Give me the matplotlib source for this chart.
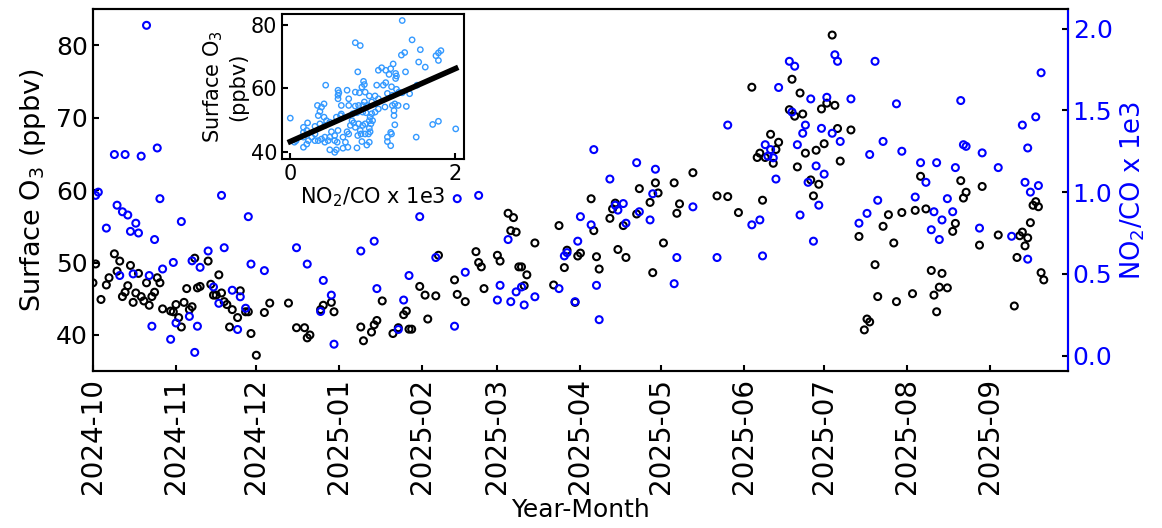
import matplotlib.pyplot as plt
import matplotlib.dates as md
import numpy as np
import pandas as pd

start = pd.Timestamp('2024-10-01')

# daily surface O3 (ppbv), day index counted from 2024-10-01
o3_day = [0, 1, 3, 5, 6, 8, 9, 10, 11, 12, 13, 14, 15, 16, 17, 18, 19, 20, 21, 22,
          23, 24, 25, 26, 29, 30, 31, 32, 33, 34, 35, 36, 37, 38, 39, 40, 43, 44, 45, 46,
          47, 48, 49, 50, 51, 52, 54, 55, 57, 58, 59, 61, 64, 66, 73, 76, 79, 80, 81, 85,
          86, 89, 90, 100, 101, 104, 105, 106, 108, 112, 114, 116, 117, 118, 119, 122, 124, 125, 128, 129,
          135, 136, 139, 143, 144, 145, 146, 151, 152, 155, 157, 156, 158, 159, 160, 162, 161, 165, 172, 174,
          176, 177, 181, 182, 180, 186, 187, 188, 189, 193, 194, 195, 196, 198, 199, 203, 204, 208, 209, 210,
          211, 213, 217, 218, 219, 224, 233, 237, 241, 246, 250, 248, 249, 251, 253, 254, 255, 256, 263, 260,
          262, 261, 264, 276, 265, 272, 274, 277, 278, 283, 273, 270, 266, 279, 268, 271, 269, 309, 286, 295,
          297, 302, 307, 311, 299, 292, 293, 300, 306, 289, 290, 288, 313, 314, 316, 315, 324, 326, 325, 332,
          322, 321, 338, 331, 317, 319, 344, 345, 348, 346, 347, 349, 350, 351, 352, 353, 354, 355]
o3_val = [47.2, 49.8, 44.9, 46.9, 47.9, 51.2, 48.8, 50.2, 45.3, 45.9, 46.8, 49.6, 44.5, 45.8, 48.5, 45.3, 44.7, 47.2, 44.1, 45.3,
          45.9, 47.9, 47.2, 43.6, 43.3, 43.2, 44.2, 42.4, 41.1, 44.5, 46.4, 43.5, 43.9, 50.6, 46.5, 46.7, 50.2, 47.0, 45.5, 45.5,
          48.3, 45.8, 44.6, 44.2, 41.1, 43.5, 42.4, 46.1, 43.2, 43.2, 40.2, 37.2, 43.1, 44.4, 44.4, 41.0, 41.0, 39.6, 40.0, 43.5,
          44.1, 44.5, 43.2, 41.1, 39.2, 40.4, 41.4, 42.0, 44.7, 40.2, 41.0, 42.8, 43.3, 40.8, 40.8, 46.7, 45.5, 42.2, 45.4, 51.0,
          47.6, 45.6, 44.6, 51.5, 50.0, 49.4, 46.4, 51.0, 50.2, 56.8, 56.2, 54.4, 54.2, 49.4, 49.4, 48.3, 46.8, 52.7, 46.9, 55.1,
          49.3, 51.7, 50.9, 51.3, 44.5, 58.8, 54.4, 50.8, 49.1, 56.1, 57.4, 58.2, 51.8, 55.1, 50.7, 56.7, 60.2, 58.3, 48.6, 61.0,
          59.6, 52.7, 61.0, 56.8, 58.1, 62.4, 59.2, 59.1, 56.9, 74.2, 58.6, 64.5, 65.1, 64.5, 67.7, 63.7, 65.6, 66.6, 63.2, 71.1,
          70.2, 75.3, 73.4, 81.4, 70.5, 71.2, 72.0, 71.7, 68.5, 68.3, 66.4, 65.5, 65.1, 64.0, 61.4, 60.8, 59.2, 61.9, 53.6, 55.0,
          56.6, 56.9, 57.2, 57.4, 52.7, 49.7, 45.3, 44.6, 45.7, 42.2, 41.8, 40.7, 48.9, 45.5, 46.6, 43.2, 61.3, 59.7, 58.9, 60.5,
          55.4, 54.3, 53.8, 52.4, 48.5, 46.5, 44.0, 50.7, 52.3, 53.7, 54.2, 53.4, 55.5, 57.9, 58.4, 57.7, 48.6, 47.6]

# daily NO2/CO ratio (x 1e3)
ratio_day = [20, 8, 12, 18, 24, 1, 2, 48, 25, 9, 11, 13, 16, 14, 17, 5, 33, 23, 49, 43,
             30, 37, 26, 40, 15, 10, 21, 45, 52, 47, 36, 31, 22, 39, 54, 29, 38, 58, 55, 57,
             76, 80, 64, 59, 86, 89, 85, 90, 100, 105, 106, 122, 136, 144, 128, 118, 116, 114, 135, 139,
             152, 151, 156, 155, 158, 161, 160, 165, 174, 176, 177, 180, 181, 182, 186, 187, 188, 189, 193, 195,
             196, 198, 199, 203, 204, 208, 209, 210, 217, 218, 224, 233, 237, 246, 249, 250, 251, 253, 252, 254,
             255, 256, 260, 262, 261, 263, 264, 277, 278, 292, 268, 274, 283, 300, 266, 265, 272, 276, 279, 295,
             290, 302, 270, 273, 267, 271, 269, 293, 289, 286, 309, 311, 315, 307, 314, 313, 316, 354, 324, 352,
             347, 325, 326, 349, 332, 322, 338, 348, 353, 350, 319, 321, 317, 331, 343, 349]
ratio_val = [2.02, 1.23, 1.23, 1.22, 1.27, 0.98, 1.00, 0.98, 0.96, 0.92, 0.88, 0.86, 0.81, 0.76, 0.75, 0.78, 0.82, 0.71, 0.66, 0.64,
             0.57, 0.58, 0.53, 0.54, 0.50, 0.49, 0.49, 0.42, 0.40, 0.32, 0.24, 0.20, 0.18, 0.18, 0.16, 0.10, 0.02, 0.85, 0.36, 0.29,
             0.66, 0.56, 0.52, 0.56, 0.46, 0.37, 0.27, 0.07, 0.64, 0.70, 0.41, 0.85, 0.96, 0.98, 0.60, 0.49, 0.34, 0.16, 0.18, 0.51,
             0.43, 0.34, 0.33, 0.71, 0.39, 0.31, 0.42, 0.36, 0.41, 0.61, 0.63, 0.33, 0.70, 0.85, 0.80, 1.26, 0.43, 0.22, 1.08, 0.92,
             0.89, 0.93, 0.81, 1.18, 0.88, 0.83, 0.99, 1.14, 0.44, 0.60, 0.91, 0.60, 1.41, 0.80, 0.83, 0.61, 1.29, 1.26, 1.22, 1.21,
             1.08, 1.64, 1.80, 1.77, 1.49, 1.29, 0.86, 1.84, 1.80, 1.80, 1.57, 1.58, 1.57, 1.54, 1.41, 1.36, 1.39, 1.36, 1.31, 1.31,
             1.23, 1.25, 1.16, 1.11, 1.06, 0.92, 0.70, 0.95, 0.87, 0.81, 1.18, 1.06, 1.18, 0.97, 0.88, 0.77, 0.71, 1.73, 1.56, 1.46,
             1.41, 1.29, 1.28, 1.27, 1.24, 1.15, 1.15, 1.06, 1.04, 1.00, 0.96, 0.88, 0.83, 0.78, 0.73, 0.59]

# matched days: NO2/CO (x 1e3) against O3 (ppbv)
pair_ratio = [1.36, 0.79, 0.85, 1.48, 1.58, 1.35, 1.39, 1.83, 1.80, 1.77, 1.80, 1.56, 1.64, 1.25, 1.07, 1.11, 1.16, 1.22, 0.82, 1.20,
              1.28, 1.29, 1.28, 1.40, 0.89, 0.90, 1.05, 1.13, 1.16, 1.23, 0.87, 0.91, 0.43, 0.58, 0.59, 0.58, 0.69, 0.79, 0.84, 0.71,
              0.58, 0.96, 1.03, 1.07, 0.99, 1.18, 1.24, 1.29, 1.32, 1.36, 1.45, 1.54, 0.33, 0.38, 0.41, 0.36, 0.34, 0.79, 0.88, 0.90,
              0.93, 0.81, 0.88, 0.92, 1.24, 1.27, 1.31, 1.15, 1.41, 0.62, 0.41, 0.44, 0.76, 0.00, 0.16, 0.21, 0.20, 0.16, 0.30, 0.30,
              0.36, 0.42, 0.48, 0.56, 0.61, 0.75, 0.77, 0.73, 0.79, 0.83, 0.88, 0.91, 0.96, 1.00, 0.98, 0.96, 0.97, 0.95, 0.91, 0.85,
              0.86, 0.82, 0.58, 0.69, 0.71, 0.64, 0.50, 0.54, 0.48, 0.54, 0.57, 0.42, 0.38, 0.46, 0.42, 0.26, 0.30, 0.34, 0.22, 0.16,
              0.16, 0.20, 0.07, 0.05, 0.48, 0.54, 0.56, 0.64, 0.70, 0.81, 0.87, 0.67, 1.18, 1.22, 1.18, 1.22, 1.23, 1.27, 0.93, 0.96,
              1.26, 1.26, 1.53, 1.73, 1.80, 2.01, 1.03, 1.07, 0.97, 0.99, 0.62, 0.71, 0.83]
pair_o3 = [81.4, 74.4, 73.5, 75.3, 72.2, 70.5, 71.3, 71.9, 71.2, 70.3, 68.8, 68.3, 66.7, 67.7, 65.7, 66.5, 65.7, 66.2, 65.2, 64.4,
           64.7, 63.9, 63.1, 65.2, 62.2, 61.2, 61.0, 61.0, 61.8, 60.5, 60.4, 58.8, 61.0, 59.4, 58.6, 57.8, 59.4, 58.8, 58.6, 56.7,
           56.7, 57.6, 57.6, 56.7, 55.7, 58.4, 57.8, 59.7, 58.8, 58.6, 58.3, 61.0, 54.6, 54.1, 55.1, 52.7, 51.4, 54.4, 54.6, 55.7,
           54.6, 52.3, 52.5, 52.3, 54.6, 55.1, 54.6, 54.1, 54.3, 51.9, 50.9, 49.8, 52.0, 50.6, 47.7, 49.1, 46.7, 46.1, 48.0, 45.6,
           48.8, 48.3, 49.3, 50.9, 51.4, 49.8, 49.1, 48.3, 47.7, 48.8, 48.3, 48.8, 49.8, 49.8, 48.8, 47.4, 46.3, 45.6, 45.6, 46.7,
           45.6, 45.1, 46.7, 46.3, 45.6, 44.6, 46.3, 45.1, 44.6, 43.5, 43.0, 44.6, 44.0, 43.5, 43.0, 44.6, 43.5, 43.5, 43.5, 44.6,
           41.4, 42.4, 43.5, 43.0, 40.6, 39.8, 40.6, 41.1, 41.4, 41.2, 43.2, 43.0, 43.2, 41.9, 44.6, 46.1, 45.6, 48.5, 42.1, 43.0,
           51.4, 53.0, 44.6, 48.6, 49.6, 47.2, 52.5, 53.5, 50.9, 52.0, 54.6, 54.6, 54.6]

o3_dates = start + pd.to_timedelta(o3_day, unit='D')
ratio_dates = start + pd.to_timedelta(ratio_day, unit='D')

fig = plt.figure(figsize=(11.62, 5.28), dpi=100)
ax = fig.add_axes([0.080, 0.297, 0.839, 0.686])

ax.scatter(o3_dates, o3_val, s=25, facecolors='none', edgecolors='black', linewidths=1.5)
ax.set_ylim(35, 85)
ax.set_xlim(pd.Timestamp('2024-10-01'), pd.Timestamp('2025-09-30'))
ax.set_ylabel('Surface O$_3$ (ppbv)', fontsize=19.5, labelpad=6)
ax.set_xlabel('Year-Month', fontsize=18, labelpad=3)
ax.xaxis.set_major_locator(md.MonthLocator())
ax.xaxis.set_major_formatter(md.DateFormatter('%Y-%m'))
ax.set_yticks([40, 50, 60, 70, 80])
ax.tick_params(direction='in', labelsize=18, width=1.5, length=4)
ax.tick_params(axis='x', labelsize=20, pad=5)
plt.setp(ax.get_xticklabels(), rotation=90)
for sp in ax.spines.values():
    sp.set_linewidth(1.5)

ax2 = ax.twinx()
ax2.scatter(ratio_dates, ratio_val, s=25, facecolors='none', edgecolors='blue', linewidths=1.5)
ax2.set_ylim(-0.095, 2.12)
ax2.set_yticks([0.0, 0.5, 1.0, 1.5, 2.0])
ax2.set_ylabel('NO$_2$/CO x 1e3', fontsize=18.5, color='blue')
ax2.tick_params(direction='in', labelsize=18, labelcolor='blue', width=1.5, length=4)
for sp in ax2.spines.values():
    sp.set_linewidth(1.5)
ax2.spines['right'].set_color('blue')

# inset: O3 against NO2/CO with least-squares line
axi = fig.add_axes([0.2427, 0.699, 0.1566, 0.2746])
axi.scatter(pair_ratio, pair_o3, s=15, facecolors='none', edgecolors='#3399ff', linewidths=1.0)
coef = np.polyfit(pair_ratio, pair_o3, 1)
xf = np.array([min(pair_ratio), max(pair_ratio)])
axi.plot(xf, np.polyval(coef, xf), color='black', linewidth=4)
axi.set_xticks([0, 2])
axi.set_yticks([40, 60, 80])
axi.set_xlabel('NO$_2$/CO x 1e3', fontsize=15, labelpad=1)
axi.set_ylabel('Surface O$_3$\n(ppbv)', fontsize=15, labelpad=2)
axi.tick_params(direction='in', labelsize=15, width=1.5, length=4)
for sp in axi.spines.values():
    sp.set_linewidth(1.5)

plt.savefig('out.png', dpi=100)
